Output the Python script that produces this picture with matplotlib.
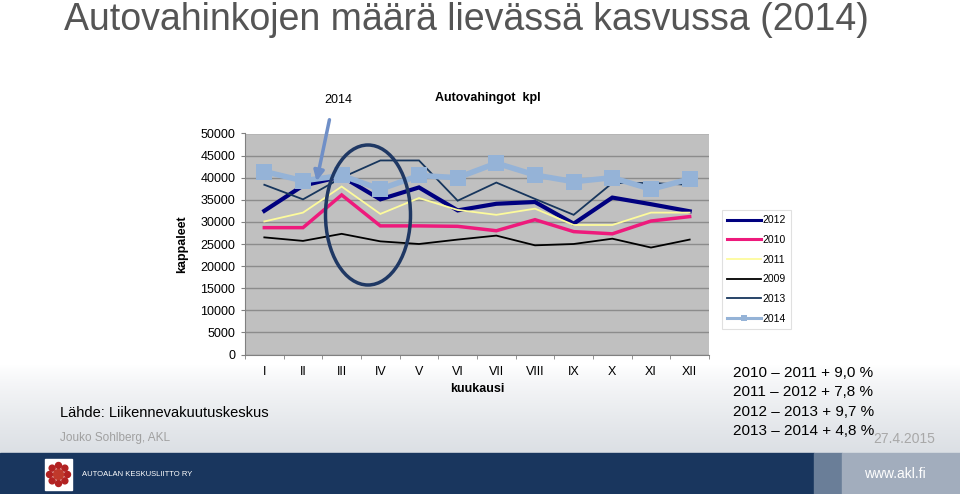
import numpy as np
import matplotlib.pyplot as plt
from matplotlib.patches import Ellipse, Rectangle, Circle

plt.rcParams['font.family'] = ['Liberation Sans', 'DejaVu Sans']

# Kuukaudet ja sarjat (autovahingot kpl)
kuukaudet = ['I', 'II', 'III', 'IV', 'V', 'VI', 'VII', 'VIII', 'IX', 'X', 'XI', 'XII']
v2012 = [32500, 38200, 40300, 35100, 37800, 32600, 34100, 34500, 29600, 35500, 34000, 32400]
v2010 = [28700, 28700, 36100, 29100, 29100, 29000, 28000, 30500, 27800, 27300, 30200, 31200]
v2011 = [30100, 32100, 38000, 31800, 35400, 32700, 31600, 33000, 29300, 29300, 32100, 32100]
v2009 = [26500, 25700, 27300, 25600, 25000, 26000, 26900, 24700, 25000, 26200, 24200, 26000]
v2013 = [38400, 35100, 40000, 43900, 43900, 34800, 38900, 35200, 31600, 38800, 38800, 38400]
v2014 = [41400, 39300, 40500, 37400, 40500, 40000, 43300, 40600, 39100, 40000, 37400, 39700]

sarjat = [
    ('2012', v2012, '#00007f', 3.0, None),
    ('2010', v2010, '#ee1a7c', 2.5, None),
    ('2011', v2011, '#fdfb9c', 1.3, None),
    ('2009', v2009, '#000000', 1.3, None),
    ('2013', v2013, '#17365d', 1.3, None),
    ('2014', v2014, '#95b3d7', 4.0, 's'),
]

W, H = 960, 494
fig = plt.figure(figsize=(W / 100, H / 100), dpi=100)

# Taustan liukuväri
bg = fig.add_axes([0, 0, 1, 1], zorder=-10)
yy = np.arange(H)
t = np.clip((yy - 365) / (453 - 365), 0, 1) ** 0.8
top = np.array([1.0, 1.0, 1.0])
bot = np.array([0.86, 0.875, 0.895])
img = top[None, :] * (1 - t[:, None]) + bot[None, :] * t[:, None]
bg.imshow(img[:, None, :], aspect='auto', extent=[0, W, H, 0])
bg.set_xlim(0, W)
bg.set_ylim(H, 0)
bg.axis('off')

# Alapalkki
bg.add_patch(Rectangle((0, 453), 814, 41, color='#19365e'))
bg.add_patch(Rectangle((814, 453), 28, 41, color='#6a7e98'))
bg.add_patch(Rectangle((842, 453), 118, 41, color='#a2adbd'))
bg.add_patch(Rectangle((45, 459), 27, 31, color='white'))
for a in np.linspace(0, 2 * np.pi, 8, endpoint=False):
    bg.add_patch(Circle((58.5 + 9 * np.cos(a), 474.5 + 9 * np.sin(a)), 3, color='#b22222'))
bg.add_patch(Circle((58.5, 474.5), 5, color='#c0392b'))
bg.text(82, 474, 'AUTOALAN KESKUSLIITTO RY', color='white', fontsize=5.5, va='center')
bg.text(895, 474, 'www.akl.fi', color='white', fontsize=10, va='center', ha='center')

# Tekstit
bg.text(64, 30, 'Autovahinkojen määrä lievässä kasvussa (2014)', fontsize=27,
        color='#555555', va='baseline')
bg.text(60, 413, 'Lähde: Liikennevakuutuskeskus', fontsize=10.5, va='center')
bg.text(60, 438, 'Jouko Sohlberg, AKL', fontsize=8.5, color='#a0a0a0', va='center')
bg.text(873, 439, '27.4.2015', fontsize=10, color='#a8a8a8', va='center')
muutokset = ['2010 – 2011 + 9,0 %', '2011 – 2012 + 7,8 %',
             '2012 – 2013 + 9,7 %', '2013 – 2014 + 4,8 %']
for i, s in enumerate(muutokset):
    bg.text(733, 373 + i * 19.3, s, fontsize=11, va='center')
bg.text(338, 100, '2014', fontsize=9, va='center', ha='center')
bg.text(488, 98, 'Autovahingot  kpl', fontsize=9, fontweight='bold', va='center', ha='center')

# Kaavio
ax = fig.add_axes([245 / W, 1 - 354.5 / H, 464 / W, 221 / H])
ax.set_facecolor('#c0c0c0')
x = np.arange(len(kuukaudet))
for nimi, arvot, vari, lw, mk in sarjat:
    ax.plot(x, arvot, color=vari, lw=lw, marker=mk, markersize=11,
            markeredgewidth=0, label=nimi, solid_joinstyle='miter')
ax.set_xlim(-0.5, len(kuukaudet) - 0.5)
ax.set_ylim(0, 50000)
ax.set_yticks(np.arange(0, 50001, 5000))
ax.set_xticks(x)
ax.set_xticklabels(kuukaudet)
ax.set_xticks(np.arange(-0.5, len(kuukaudet)), minor=True)
ax.tick_params(axis='x', which='major', length=0, pad=8, labelsize=9)
ax.tick_params(axis='x', which='minor', length=3, color='#808080')
ax.tick_params(axis='y', length=3, color='#808080', labelsize=9, pad=4)
ax.grid(axis='y', color='#8c8c8c', lw=1)
ax.set_axisbelow(True)
for s in ['top', 'right']:
    ax.spines[s].set_visible(False)
for s in ['left', 'bottom']:
    ax.spines[s].set_color('#808080')
ax.set_ylabel('kappaleet', fontsize=9, fontweight='bold')
ax.yaxis.set_label_coords(-0.123, 0.5)
ax.set_xlabel('kuukausi', fontsize=9, fontweight='bold', labelpad=4)

leg = fig.legend(loc='upper left', bbox_to_anchor=(722 / W, 1 - 210 / H),
                 fontsize=7.5, frameon=True, fancybox=False, handlelength=3.2,
                 handletextpad=0.2, labelspacing=0.93, borderpad=0.5,
                 borderaxespad=0)
leg.get_frame().set_edgecolor('#d9d9d9')
leg.get_frame().set_linewidth(0.8)
for h in leg.legend_handles:
    h.set_markersize(5)
    h.set_linewidth(min(h.get_linewidth(), 2.2))

# Nuoli ja ellipsi päällimmäisenä
ov = fig.add_axes([0, 0, 1, 1], zorder=10)
ov.set_xlim(0, W)
ov.set_ylim(H, 0)
ov.axis('off')
ov.add_patch(Ellipse((368, 215), 85, 140, fill=False, edgecolor='#1f3864', lw=2.5))
ov.annotate('', xy=(316, 184), xytext=(330, 117),
            arrowprops=dict(arrowstyle='-|>', color='#6f8fc7', lw=2.5,
                            mutation_scale=15))

fig.savefig('out.png', dpi=100)
